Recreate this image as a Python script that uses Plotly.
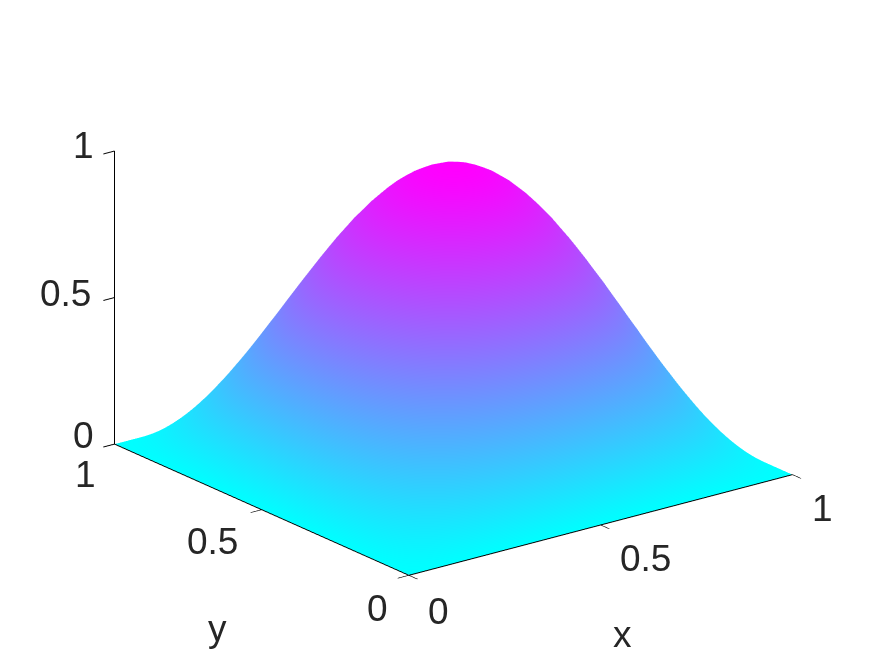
import math
import plotly.graph_objects as go

GRID = [0, .025, .05, .075, .1, .125, .15, .175, .2, .225, .25, .275, .3, .325, .35, .375, .4, .425, .45, .475,
        .5, .525, .55, .575, .6, .625, .65, .675, .7, .725, .75, .775, .8, .825, .85, .875, .9, .925, .95, .975, 1]
Z_QUADRANT = [
 [0]*21,
 [0,.006,.012,.018,.024,.030,.036,.041,.046,.051,.056,.060,.064,.067,.070,.073,.075,.076,.078,.078,.079],
 [0,.012,.024,.037,.048,.060,.071,.082,.092,.102,.111,.119,.127,.133,.139,.144,.149,.152,.154,.156,.156],
 [0,.018,.037,.054,.072,.089,.106,.122,.137,.152,.165,.177,.189,.199,.208,.216,.222,.227,.231,.233,.233],
 [0,.024,.048,.072,.095,.118,.140,.161,.182,.201,.218,.235,.250,.263,.275,.285,.294,.300,.305,.308,.309],
 [0,.030,.060,.089,.118,.146,.174,.200,.225,.249,.271,.291,.310,.326,.341,.354,.364,.372,.378,.382,.383],
 [0,.036,.071,.106,.140,.174,.206,.237,.267,.295,.321,.345,.367,.387,.405,.419,.432,.441,.448,.453,.454],
 [0,.041,.082,.122,.161,.200,.237,.273,.307,.339,.369,.397,.423,.445,.466,.483,.497,.508,.516,.521,.523],
 [0,.046,.092,.137,.182,.225,.267,.307,.346,.382,.416,.447,.476,.501,.524,.543,.559,.572,.581,.586,.588],
 [0,.051,.102,.152,.201,.249,.295,.339,.382,.422,.459,.494,.525,.554,.579,.600,.618,.631,.641,.647,.649],
 [0,.056,.111,.165,.218,.271,.321,.369,.416,.459,.500,.538,.572,.603,.630,.653,.672,.688,.698,.705,.707],
 [0,.060,.119,.177,.235,.291,.345,.397,.447,.494,.538,.578,.615,.648,.678,.703,.723,.739,.751,.758,.760],
 [0,.064,.127,.189,.250,.310,.367,.423,.476,.525,.572,.615,.655,.690,.721,.747,.769,.787,.799,.806,.809],
 [0,.067,.133,.199,.263,.326,.387,.445,.501,.554,.603,.648,.690,.727,.760,.788,.811,.829,.842,.850,.853],
 [0,.070,.139,.208,.275,.341,.405,.466,.524,.579,.630,.678,.721,.760,.794,.823,.847,.866,.880,.888,.891],
 [0,.073,.144,.216,.285,.354,.419,.483,.543,.600,.653,.703,.747,.788,.823,.854,.879,.898,.913,.921,.924],
 [0,.075,.149,.222,.294,.364,.432,.497,.559,.618,.672,.723,.769,.811,.847,.879,.905,.925,.939,.948,.951],
 [0,.076,.152,.227,.300,.372,.441,.508,.572,.631,.688,.739,.787,.829,.866,.898,.925,.946,.960,.969,.972],
 [0,.078,.154,.231,.305,.378,.448,.516,.581,.641,.698,.751,.799,.842,.880,.913,.939,.960,.976,.985,.988],
 [0,.078,.156,.233,.308,.382,.453,.521,.586,.647,.705,.758,.806,.850,.888,.921,.948,.969,.985,.994,.997],
 [0,.079,.156,.233,.309,.383,.454,.523,.588,.649,.707,.760,.809,.853,.891,.924,.951,.972,.988,.997,1],
]
half = [r + r[-2::-1] for r in Z_QUADRANT]
Z = half + half[-2::-1]
TICKS = [0, 0.5, 1]
TICKTEXT = ["0", "0.5", "1"]
TEXT = "#262626"
FONT = dict(family="Liberation Sans", size=37, color=TEXT)

az, el = math.radians(37.5), math.radians(20)
R = 2.0
SCALE = 1.54
Z_OFFSET = -0.031
eye = dict(x=-R*math.sin(az)*math.cos(el), y=-R*math.cos(az)*math.cos(el), z=R*math.sin(el) + Z_OFFSET)

ax = dict(range=[0, 1], tickvals=TICKS, showticklabels=False, showgrid=False, zeroline=False,
          showbackground=False, showline=True, linecolor="#000000", linewidth=2, title=dict(text=""),
          ticks="outside", ticklen=14, tickwidth=2, tickcolor="#000000", showspikes=False)

def label(x, y, z, text, dx, dy):
    return dict(x=x, y=y, z=z, text=text, showarrow=False, font=FONT, xanchor="center",
                yanchor="middle", xshift=dx, yshift=dy)

Z_SHIFTS = [(-31, 8), (-49, 4), (-31, 5)]
Y_SHIFTS = [(-31, -33), (-49, -32), (-29, -31)]
X_SHIFTS = [(30, -36), (45, -34), (30, -34)]
annotations = []
for t, txt, s in zip(TICKS, TICKTEXT, Z_SHIFTS):
    annotations.append(label(0, 1, t, txt, *s))
for t, txt, s in zip(TICKS, TICKTEXT, Y_SHIFTS):
    annotations.append(label(0, t, 0, txt, *s))
for t, txt, s in zip(TICKS, TICKTEXT, X_SHIFTS):
    annotations.append(label(t, 0, 0, txt, *s))
annotations.append(label(0, 0.5, 0, "y", -44, -119))
annotations.append(label(0.5, 0, 0, "x", 22, -110))

fig = go.Figure(go.Surface(x=GRID, y=GRID, z=Z, cmin=0, cmax=1, showscale=False,
    colorscale=[[0, "#00ffff"], [1, "#ff00ff"]],
    lighting=dict(ambient=1, diffuse=0, specular=0, roughness=1, fresnel=0),
    contours=dict(x=dict(highlight=False), y=dict(highlight=False), z=dict(highlight=False))))
fig.update_layout(width=875, height=656, paper_bgcolor="white", margin=dict(l=0, r=0, t=0, b=0),
    scene=dict(
        domain=dict(x=[0.018, 1], y=[0.043, 1]),
        aspectmode="manual", aspectratio=dict(x=SCALE, y=SCALE, z=0.645*SCALE),
        camera=dict(eye=eye, center=dict(x=0, y=0, z=Z_OFFSET), up=dict(x=0, y=0, z=1),
                    projection=dict(type="orthographic")),
        xaxis=ax, yaxis=ax, zaxis=ax,
        annotations=annotations,
    ))
fig.write_html("out.html")
